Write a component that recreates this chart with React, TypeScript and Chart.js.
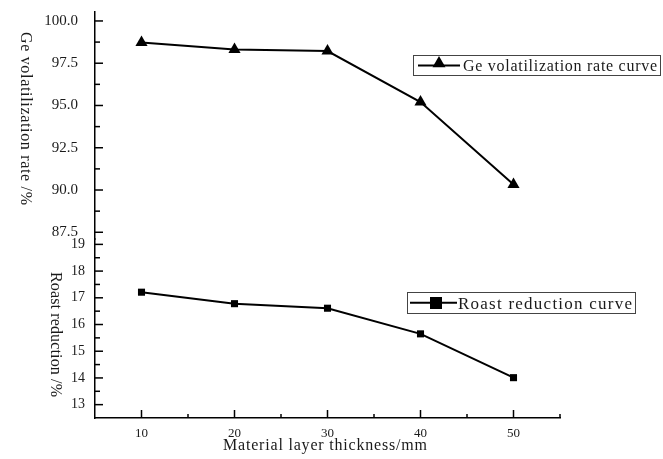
import React, { useEffect, useRef } from 'react';
import { Chart, registerables } from 'chart.js';

Chart.register(...registerables);

// ---- data ----
const thickness = [10, 20, 30, 40, 50];
const geRate = [98.72, 98.31, 98.22, 95.2, 90.33];
const roastReduction = [17.21, 16.78, 16.61, 15.65, 14.01];

const xTicks = [10, 20, 30, 40, 50];
const geTicks = [87.5, 90, 92.5, 95, 97.5, 100];
const roastTicks = [13, 14, 15, 16, 17, 18, 19];

const geLabel = 'Ge volatilization rate curve';
const roastLabel = 'Roast reduction curve';
const xTitle = 'Material layer thickness/mm';
const geTitle = 'Ge volatilization rate /%';
const roastTitle = 'Roast reduction /%';

const SERIF = '"Liberation Serif", "Times New Roman", serif';
const TEXT = '#1a1a1a';

function spacedText(ctx: CanvasRenderingContext2D, text: string, x: number, y: number, target: number) {
  (ctx as any).letterSpacing = '0px';
  const w = ctx.measureText(text).width;
  const sp = Math.max(0, (target - w) / (text.length - 1));
  (ctx as any).letterSpacing = sp + 'px';
  ctx.textAlign = 'left';
  ctx.fillText(text, x, y);
  (ctx as any).letterSpacing = '0px';
}

const zeroPad = (s: any) => {
  s.paddingTop = 0;
  s.paddingBottom = 0;
  s.paddingLeft = 0;
  s.paddingRight = 0;
};

const decor = {
  id: 'decor',
  afterDraw(chart: any) {
    const ctx: CanvasRenderingContext2D = chart.ctx;
    const xs = chart.scales.x;
    const ya = chart.scales.yGe;
    const yb = chart.scales.yRoast;
    const left = chart.chartArea.left;
    const bottom = chart.chartArea.bottom;
    ctx.save();
    ctx.strokeStyle = '#000';
    ctx.lineWidth = 1.5;
    const yTick = (py: number, len: number) => {
      ctx.beginPath();
      ctx.moveTo(left, py);
      ctx.lineTo(left + len, py);
      ctx.stroke();
    };
    const xTick = (px: number, len: number) => {
      ctx.beginPath();
      ctx.moveTo(px, bottom);
      ctx.lineTo(px, bottom - len);
      ctx.stroke();
    };
    const doY = (scale: any, ticks: number[]) => {
      const step = ticks[1] - ticks[0];
      ticks.forEach((v) => yTick(scale.getPixelForValue(v), 8));
      ticks.forEach((v) => {
        const m = v + step / 2;
        if (m < scale.max && m > scale.min) yTick(scale.getPixelForValue(m), 5);
      });
    };
    doY(ya, geTicks);
    doY(yb, roastTicks);
    const xstep = xTicks[1] - xTicks[0];
    xTicks.forEach((v) => xTick(xs.getPixelForValue(v), 8));
    [xTicks[0] - xstep / 2, ...xTicks.map((v) => v + xstep / 2)].forEach((m) => {
      if (m > xs.min && m <= xs.max) xTick(xs.getPixelForValue(m), 4);
    });

    // axis titles
    ctx.fillStyle = TEXT;
    ctx.font = `16px ${SERIF}`;
    ctx.textBaseline = 'alphabetic';
    spacedText(ctx, xTitle, 223, 450, 204);

    ctx.save();
    ctx.translate(21, 32);
    ctx.rotate(Math.PI / 2);
    spacedText(ctx, geTitle, 0, 0, 173);
    ctx.restore();

    ctx.save();
    ctx.translate(51, 272);
    ctx.rotate(Math.PI / 2);
    spacedText(ctx, roastTitle, 0, 0, 125);
    ctx.restore();

    // legends
    ctx.lineWidth = 1;
    ctx.strokeStyle = '#444';
    ctx.strokeRect(413.5, 55.5, 247, 20);
    ctx.strokeRect(407.5, 292.5, 228, 21);

    ctx.strokeStyle = '#000';
    ctx.lineWidth = 2;
    ctx.beginPath();
    ctx.moveTo(418, 65.5);
    ctx.lineTo(460, 65.5);
    ctx.stroke();
    ctx.fillStyle = '#000';
    const r = 7.5;
    const cx = 439, cy = 63.5;
    ctx.beginPath();
    ctx.moveTo(cx, cy - r);
    ctx.lineTo(cx + r * Math.sin((2 * Math.PI) / 3), cy - r * Math.cos((2 * Math.PI) / 3));
    ctx.lineTo(cx + r * Math.sin((4 * Math.PI) / 3), cy - r * Math.cos((4 * Math.PI) / 3));
    ctx.closePath();
    ctx.fill();

    ctx.beginPath();
    ctx.moveTo(410, 302.7);
    ctx.lineTo(457, 302.7);
    ctx.stroke();
    ctx.fillRect(430, 297, 12, 12);

    ctx.fillStyle = TEXT;
    ctx.font = `16px ${SERIF}`;
    spacedText(ctx, geLabel, 463, 71, 194);
    ctx.font = `17px ${SERIF}`;
    spacedText(ctx, roastLabel, 458, 308.5, 174);

    ctx.restore();
  },
};

export default function App() {
  const ref = useRef<HTMLCanvasElement | null>(null);
  useEffect(() => {
    document.body.style.margin = '0';
    const canvas = ref.current;
    if (!canvas) return;
    const border = { display: true, color: '#000', width: 1.5 };
    const grid = { display: false, drawTicks: false };
    const chart = new Chart(canvas, {
      type: 'line',
      data: {
        datasets: [
          {
            label: geLabel,
            data: thickness.map((x, i) => ({ x, y: geRate[i] })),
            yAxisID: 'yGe',
            borderColor: '#000',
            backgroundColor: '#000',
            borderWidth: 2,
            pointStyle: 'triangle',
            pointRadius: 7,
            pointBorderWidth: 0,
            pointBackgroundColor: '#000',
            tension: 0,
          },
          {
            label: roastLabel,
            data: thickness.map((x, i) => ({ x, y: roastReduction[i] })),
            yAxisID: 'yRoast',
            borderColor: '#000',
            backgroundColor: '#000',
            borderWidth: 2,
            pointStyle: 'rect',
            pointRadius: 5,
            pointBorderWidth: 0,
            pointBackgroundColor: '#000',
            tension: 0,
          },
        ],
      },
      options: {
        animation: false,
        responsive: false,
        layout: { padding: { top: 12, right: 103, left: 0, bottom: 0 } },
        plugins: { legend: { display: false }, tooltip: { enabled: false } },
        scales: {
          x: {
            type: 'linear',
            min: 5,
            max: 55,
            afterBuildTicks: (s: any) => {
              s.ticks = xTicks.map((v) => ({ value: v }));
            },
            afterFit: (s: any) => {
              s.height = 41;
              zeroPad(s);
            },
            grid,
            border,
            ticks: { autoSkip: false, padding: 8, color: TEXT, font: { family: SERIF, size: 13 } },
          },
          yRoast: {
            type: 'linear',
            position: 'left',
            stack: 'y',
            stackWeight: 178.7,
            min: 12.5,
            max: 19.2,
            afterBuildTicks: (s: any) => {
              s.ticks = roastTicks.map((v) => ({ value: v }));
            },
            afterFit: (s: any) => {
              s.width = 95;
              zeroPad(s);
            },
            grid,
            border,
            ticks: { autoSkip: false, padding: 10, color: TEXT, font: { family: SERIF, size: 14 } },
          },
          yGe: {
            type: 'linear',
            position: 'left',
            stack: 'y',
            stackWeight: 226.7,
            min: 87.1,
            max: 100.53,
            afterBuildTicks: (s: any) => {
              s.ticks = geTicks.map((v) => ({ value: v }));
            },
            afterFit: (s: any) => {
              s.width = 95;
              zeroPad(s);
            },
            grid,
            border,
            ticks: {
              autoSkip: false,
              padding: 17,
              color: TEXT,
              font: { family: SERIF, size: 15 },
              callback: (v: any) => Number(v).toFixed(1),
            },
          },
        },
      } as any,
      plugins: [decor],
    });
    return () => chart.destroy();
  }, []);
  return <canvas ref={ref} width={663} height={459} style={{ display: 'block' }} />;
}
